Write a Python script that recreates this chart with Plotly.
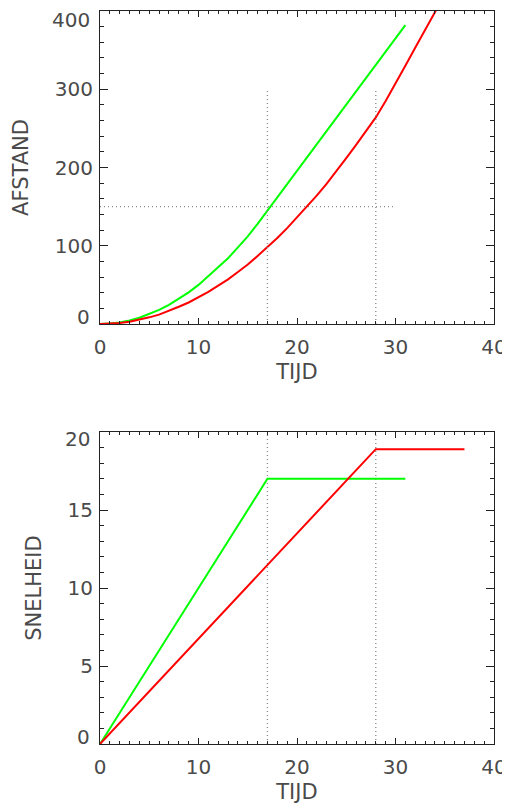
import plotly.graph_objects as go
from plotly.subplots import make_subplots

# ---- data ----
t_green_d = list(range(0, 32))
d_green = [0, 0.5, 2, 4.5, 8, 12.5, 18, 24.5, 32, 40.5, 50, 61, 72, 84, 98, 112,
           128, 145, 162, 179, 196, 213, 230, 247, 264, 281, 298, 315, 332, 349, 366, 382]
t_red_d = list(range(0, 36))
d_red = [0, 0.3, 1.4, 3, 5.4, 8.5, 12, 16.6, 22, 27.5, 34, 41, 49, 57, 66.5, 76,
         87, 98, 110, 122.5, 136, 150, 164, 179, 195, 212, 229, 246, 264, 285, 307,
         330, 353, 375, 398, 421]

t_green_v = [0, 17, 31]
v_green = [0, 17.0, 17.0]
t_red_v = [0, 28, 37]
v_red = [0, 18.9, 18.9]

guide_times = [17, 28]        # vertical dotted guides
guide_top_d = 300             # top of vertical guides in the distance plot
guide_d = 150                 # horizontal dotted guide
guide_d_t = [0, 30]           # extent of horizontal guide

t_range = [0, 40]
d_range = [0, 400]
v_range = [0, 20]
d_ticks = [0, 100, 200, 300, 400]
v_ticks = [0, 5, 10, 15, 20]

x_title = "TIJD"
y1_title = "AFSTAND"
y2_title = "SNELHEID"

# ---- figure ----
# the page body adds an 8px margin, so the figure is 8px smaller than the window
W, H = 502, 796
ML, MR, MT, MB = 92, 16, 3, 60
PH = H - MT - MB
fig = make_subplots(rows=2, cols=1)

GREEN = "#00ff00"
RED = "#ff0000"
GUIDE = "#8a8a8a"
AX = "#222222"
TXT = "#4a4a4a"

dotted = dict(color=GUIDE, width=1.3, dash="1px,3px")

# distance plot
fig.add_trace(go.Scatter(x=t_green_d, y=d_green, mode="lines",
                         line=dict(color=GREEN, width=2)), row=1, col=1)
fig.add_trace(go.Scatter(x=t_red_d, y=d_red, mode="lines",
                         line=dict(color=RED, width=2)), row=1, col=1)
for gt in guide_times:
    fig.add_trace(go.Scatter(x=[gt, gt], y=[d_range[0], guide_top_d], mode="lines",
                             line=dotted), row=1, col=1)
fig.add_trace(go.Scatter(x=guide_d_t, y=[guide_d, guide_d], mode="lines",
                         line=dotted), row=1, col=1)

# speed plot
for gt in guide_times:
    fig.add_trace(go.Scatter(x=[gt, gt], y=v_range, mode="lines",
                             line=dotted), row=2, col=1)
fig.add_trace(go.Scatter(x=t_green_v, y=v_green, mode="lines",
                         line=dict(color=GREEN, width=2)), row=2, col=1)
fig.add_trace(go.Scatter(x=t_red_v, y=v_red, mode="lines",
                         line=dict(color=RED, width=2)), row=2, col=1)

tick_font = dict(family="DejaVu Sans", size=20, color=TXT)
title_font = dict(family="DejaVu Sans", size=21, color=TXT)

def xaxis_style():
    return dict(range=t_range, dtick=10, tick0=0, showgrid=False, zeroline=False,
                showline=True, linecolor=AX, linewidth=1, mirror="ticks",
                ticks="inside", ticklen=6, tickcolor=AX, tickwidth=1,
                minor=dict(dtick=1, ticks="inside", ticklen=3, tickcolor=AX, tickwidth=1),
                tickfont=tick_font, ticklabelstandoff=5, ticklabeloverflow="allow",
                title=dict(text=x_title, font=title_font, standoff=6),
                automargin=False, domain=[0, 1])

def yaxis_style(rng, ticks, mdt, title, top_px, bot_px):
    # inner tick values get ordinary labels; the two end labels are drawn as
    # annotations nudged inward, like the reference's plotting package does
    return dict(range=rng, tickmode="array", tickvals=ticks[1:-1],
                showgrid=False, zeroline=False,
                showline=True, linecolor=AX, linewidth=1, mirror="ticks",
                ticks="inside", ticklen=8, tickcolor=AX, tickwidth=1,
                minor=dict(dtick=mdt, ticks="inside", ticklen=4, tickcolor=AX, tickwidth=1),
                tickfont=tick_font, ticklabelstandoff=2, ticklabeloverflow="allow",
                title=dict(text=title, font=title_font, standoff=20),
                automargin=False,
                domain=[1 - (bot_px - MT) / PH, 1 - (top_px - MT) / PH])

annotations = []
for yref, ticks, top_shift in (("y", d_ticks, -9), ("y2", v_ticks, -7)):
    xdom = "x domain" if yref == "y" else "x2 domain"
    for val, shift in ((ticks[0], 7), (ticks[-1], top_shift)):
        annotations.append(dict(xref=xdom, yref=yref, x=0, y=val, text=str(val),
                                showarrow=False, xanchor="right", yanchor="middle",
                                xshift=-9, yshift=shift, font=tick_font,
                                borderpad=0))

fig.update_layout(
    width=W, height=H,
    margin=dict(l=ML, r=MR, t=MT, b=MB, autoexpand=False),
    paper_bgcolor="white", plot_bgcolor="white",
    showlegend=False,
    font=tick_font,
    xaxis=xaxis_style(),
    xaxis2=xaxis_style(),
    yaxis=yaxis_style(d_range, d_ticks, 20, y1_title, 3, 316),
    yaxis2=yaxis_style(v_range, v_ticks, 1, y2_title, 424, 736),
    annotations=annotations,
)

fig.write_html("out.html")
